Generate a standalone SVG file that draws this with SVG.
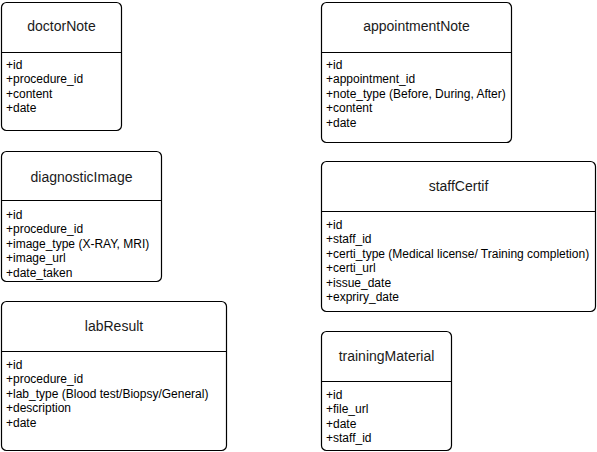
<svg xmlns="http://www.w3.org/2000/svg" width="597" height="452" viewBox="0 0 597 452">
<style>
.box{fill:#fff;stroke:#000;stroke-width:1.2}
.div{stroke:#000;stroke-width:1.2}
.t{font-family:"Liberation Sans",Arial,sans-serif;font-size:14px;fill:#1a1a1a;text-anchor:middle}
.a{font-family:"Liberation Sans",Arial,sans-serif;font-size:12px;fill:#000}
</style>
<rect width="597" height="452" fill="#fff"/>
<g id="doctorNote">
<rect class="box" x="1.5" y="2.5" width="120" height="128" rx="5"/>
<line class="div" x1="1.5" y1="52.5" x2="121.5" y2="52.5"/>
<text class="t" x="61.5" y="31">doctorNote</text>
<text class="a" x="6" y="68.5">+id</text>
<text class="a" x="6" y="83">+procedure_id</text>
<text class="a" x="6" y="97.5">+content</text>
<text class="a" x="6" y="112">+date</text>
</g>
<g id="diagnosticImage">
<rect class="box" x="1.5" y="151.5" width="160" height="130" rx="5"/>
<line class="div" x1="1.5" y1="200.5" x2="161.5" y2="200.5"/>
<text class="t" x="81.5" y="182">diagnosticImage</text>
<text class="a" x="6" y="218.5">+id</text>
<text class="a" x="6" y="233">+procedure_id</text>
<text class="a" x="6" y="247.5">+image_type (X-RAY, MRI)</text>
<text class="a" x="6" y="262">+image_url</text>
<text class="a" x="6" y="276.5">+date_taken</text>
</g>
<g id="labResult">
<rect class="box" x="1.5" y="301.5" width="225" height="149" rx="5"/>
<line class="div" x1="1.5" y1="351.5" x2="226.5" y2="351.5"/>
<text class="t" x="114" y="331">labResult</text>
<text class="a" x="6" y="368.5">+id</text>
<text class="a" x="6" y="383">+procedure_id</text>
<text class="a" x="6" y="397.5">+lab_type (Blood test/Biopsy/General)</text>
<text class="a" x="6" y="412">+description</text>
<text class="a" x="6" y="426.5">+date</text>
</g>
<g id="appointmentNote">
<rect class="box" x="321.5" y="2.5" width="190" height="140" rx="5"/>
<line class="div" x1="321.5" y1="52.5" x2="511.5" y2="52.5"/>
<text class="t" x="416.5" y="31">appointmentNote</text>
<text class="a" x="326" y="68.5">+id</text>
<text class="a" x="326" y="83">+appointment_id</text>
<text class="a" x="326" y="97.5">+note_type (Before, During, After)</text>
<text class="a" x="326" y="112">+content</text>
<text class="a" x="326" y="126.5">+date</text>
</g>
<g id="staffCertif">
<rect class="box" x="321.5" y="161.5" width="274" height="150" rx="5"/>
<line class="div" x1="321.5" y1="211.5" x2="595.5" y2="211.5"/>
<text class="t" x="458.5" y="191">staffCertif</text>
<text class="a" x="326" y="228.5">+id</text>
<text class="a" x="326" y="243">+staff_id</text>
<text class="a" x="326" y="257.5">+certi_type (Medical license/ Training completion)</text>
<text class="a" x="326" y="272">+certi_url</text>
<text class="a" x="326" y="286.5">+issue_date</text>
<text class="a" x="326" y="301">+expriry_date</text>
</g>
<g id="trainingMaterial">
<rect class="box" x="321.5" y="331.5" width="130" height="119" rx="5"/>
<line class="div" x1="321.5" y1="381.5" x2="451.5" y2="381.5"/>
<text class="t" x="386.5" y="361">trainingMaterial</text>
<text class="a" x="326" y="398.5">+id</text>
<text class="a" x="326" y="413">+file_url</text>
<text class="a" x="326" y="427.5">+date</text>
<text class="a" x="326" y="442">+staff_id</text>
</g>
<g id="connectors"></g>
</svg>
